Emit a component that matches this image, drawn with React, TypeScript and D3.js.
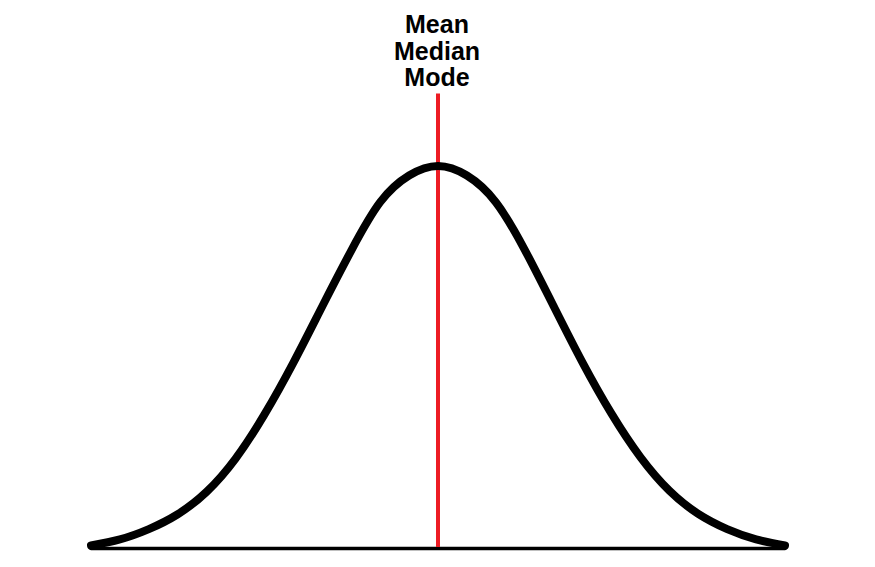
import React from "react";
import * as d3 from "d3";

const WIDTH = 875;
const HEIGHT = 567;

// Curve points (x in standard deviations, y relative height)
const curveX = [-3, -2.75, -2.5, -2.25, -2, -1.75, -1.5, -1.25, -1, -0.75, -0.5, -0.25, 0, 0.25, 0.5, 0.75, 1, 1.25, 1.5, 1.75, 2, 2.25, 2.5, 2.75, 3];
const curveY = [0.004, 0.02, 0.047, 0.086, 0.145, 0.232, 0.348, 0.484, 0.632, 0.778, 0.905, 0.975, 1, 0.975, 0.905, 0.78, 0.632, 0.484, 0.35, 0.236, 0.148, 0.087, 0.047, 0.02, 0.004];

const axisExtent = [-3, 3];
const centerValue = 0;
const lineTop = 1.19;
const labels = ["Mean", "Median", "Mode"];

export default function App() {
  const x = d3.scaleLinear().domain([-3, 3]).range([91, 785]);
  const y = d3.scaleLinear().domain([0, 1]).range([547, 166]);

  const pts: [number, number][] = curveX.map((v, i) => [v, curveY[i]]);
  const line = d3
    .line<[number, number]>()
    .x((d) => x(d[0]))
    .y((d) => y(d[1]))
    .curve(d3.curveNatural);

  return (
    <svg
      width={WIDTH}
      height={HEIGHT}
      style={{ position: "absolute", left: 0, top: 0, background: "#fff" }}
    >
      <rect x={0} y={0} width={WIDTH} height={HEIGHT} fill="#fff" />
      <line
        x1={x(axisExtent[0])}
        x2={x(axisExtent[1])}
        y1={y(0) + 1.5}
        y2={y(0) + 1.5}
        stroke="#000"
        strokeWidth={3.5}
        strokeLinecap="round"
      />
      <line
        x1={x(centerValue)}
        x2={x(centerValue)}
        y1={y(lineTop)}
        y2={y(0)}
        stroke="#ed1c24"
        strokeWidth={4}
      />
      <path
        d={line(pts) || ""}
        fill="none"
        stroke="#000"
        strokeWidth={8}
        strokeLinecap="round"
        strokeLinejoin="round"
      />
      <g
        fontFamily="'Liberation Sans', Arial, sans-serif"
        fontWeight="bold"
        fontSize={25}
        textAnchor="middle"
        fill="#000"
      >
        {labels.map((t, i) => (
          <text key={t} x={x(centerValue) - 1} y={33 + i * 26.5}>
            {t}
          </text>
        ))}
      </g>
    </svg>
  );
}
